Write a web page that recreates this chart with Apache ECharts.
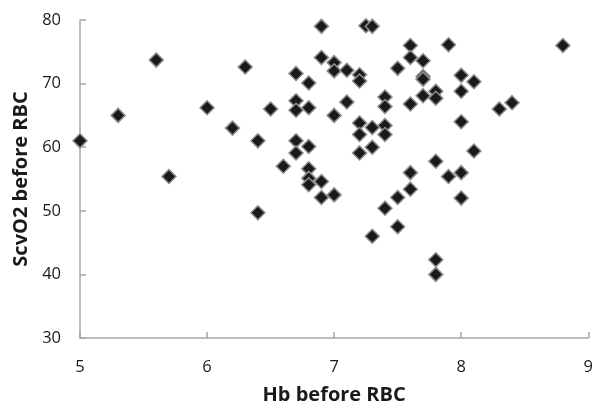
<!DOCTYPE html>
<html lang="en">
<head>
    <meta charset="UTF-8">
    <script src="https://cdn.jsdelivr.net/npm/echarts@6/dist/echarts.min.js"></script>
    <style>
        html, body { margin: 0; padding: 0; background: #fff; }
        #chart { width: 596px; height: 410px; }
    </style>
</head>
<body>
    <div id="chart"></div>
    <script>
        // Hb before RBC (x) and ScvO2 before RBC (y)
        var hb = [5.0, 5.3, 5.6, 5.7, 6.0, 6.2, 6.3, 6.4, 6.4, 6.5,
            6.6, 6.7, 6.7, 6.7, 6.7, 6.7, 6.8, 6.8, 6.8, 6.8,
            6.8, 6.8, 6.9, 6.9, 6.9, 6.9, 7.0, 7.0, 7.0, 7.0,
            7.1, 7.1, 7.2, 7.2, 7.2, 7.2, 7.2, 7.25, 7.3, 7.3,
            7.3, 7.3, 7.4, 7.4, 7.4, 7.4, 7.4, 7.5, 7.5, 7.5,
            7.6, 7.6, 7.6, 7.6, 7.6, 7.7, 7.7, 7.7, 7.7, 7.8,
            7.8, 7.8, 7.8, 7.8, 7.9, 7.9, 8.0, 8.0, 8.0, 8.0,
            8.0, 8.1, 8.1, 8.3, 8.4, 8.8]
        var scvo2 = [61, 65, 73.7, 55.4, 66.2, 63, 72.6, 61, 49.7, 66,
            57, 71.6, 67.3, 65.8, 61, 59.1, 70.1, 66.2, 60.1, 56.6,
            55.1, 54.1, 79, 74.1, 54.6, 52.1, 73.3, 72, 65, 52.5,
            72.1, 67.1, 71.4, 70.4, 63.8, 62, 59.1, 79.1, 79, 63.1,
            60, 46, 67.9, 66.4, 63.4, 62, 50.4, 72.4, 52.1, 47.5,
            76, 74.1, 66.8, 56, 53.4, 73.6, 71.1, 70.7, 68.1, 68.8,
            67.7, 57.8, 42.3, 40, 76.1, 55.4, 71.3, 68.8, 64, 56,
            52, 70.3, 59.4, 66, 67, 76]
        var xTicks = [5, 6, 7, 8, 9]
        var yTicks = [30, 40, 50, 60, 70, 80]

        var points = []
        for (var i = 0; i < hb.length; i++) {
            points.push([hb[i], scvo2[i]])
        }

        var axisColor = '#a6a6a6'
        var font = '"Open Sans", "Noto Sans", sans-serif'
        var chart = echarts.init(document.getElementById('chart'))
        chart.setOption({
            animation: false,
            grid: { left: 80, right: 5, top: 20, bottom: 69, containLabel: false },
            xAxis: {
                type: 'value',
                min: xTicks[0],
                max: xTicks[xTicks.length - 1],
                interval: 1,
                name: 'Hb before RBC',
                nameLocation: 'middle',
                nameGap: 47,
                nameTextStyle: { fontFamily: font, fontWeight: 'bold', fontSize: 20, color: '#1a1a1a' },
                axisLine: { show: true, lineStyle: { color: axisColor, width: 1.5 } },
                axisTick: { show: true, inside: true, length: 6, lineStyle: { color: axisColor, width: 1.5 } },
                axisLabel: { fontFamily: font, fontSize: 16.5, color: '#1a1a1a', margin: 21 },
                splitLine: { show: false }
            },
            yAxis: {
                type: 'value',
                min: yTicks[0],
                max: yTicks[yTicks.length - 1],
                interval: 10,
                name: 'ScvO2 before RBC',
                nameLocation: 'middle',
                nameGap: 45,
                nameTextStyle: { fontFamily: font, fontWeight: 'bold', fontSize: 20, color: '#1a1a1a' },
                axisLine: { show: true, lineStyle: { color: axisColor, width: 1.5 } },
                axisTick: { show: true, inside: true, length: 6, lineStyle: { color: axisColor, width: 1.5 } },
                axisLabel: { fontFamily: font, fontSize: 16.5, color: '#1a1a1a', margin: 19 },
                splitLine: { show: false }
            },
            series: [{
                type: 'scatter',
                data: points,
                symbol: 'diamond',
                symbolSize: 14,
                itemStyle: { color: '#1a1a1a', borderColor: '#8c8c8c', borderWidth: 1.5, opacity: 1 }
            }]
        })
    </script>
</body>
</html>
